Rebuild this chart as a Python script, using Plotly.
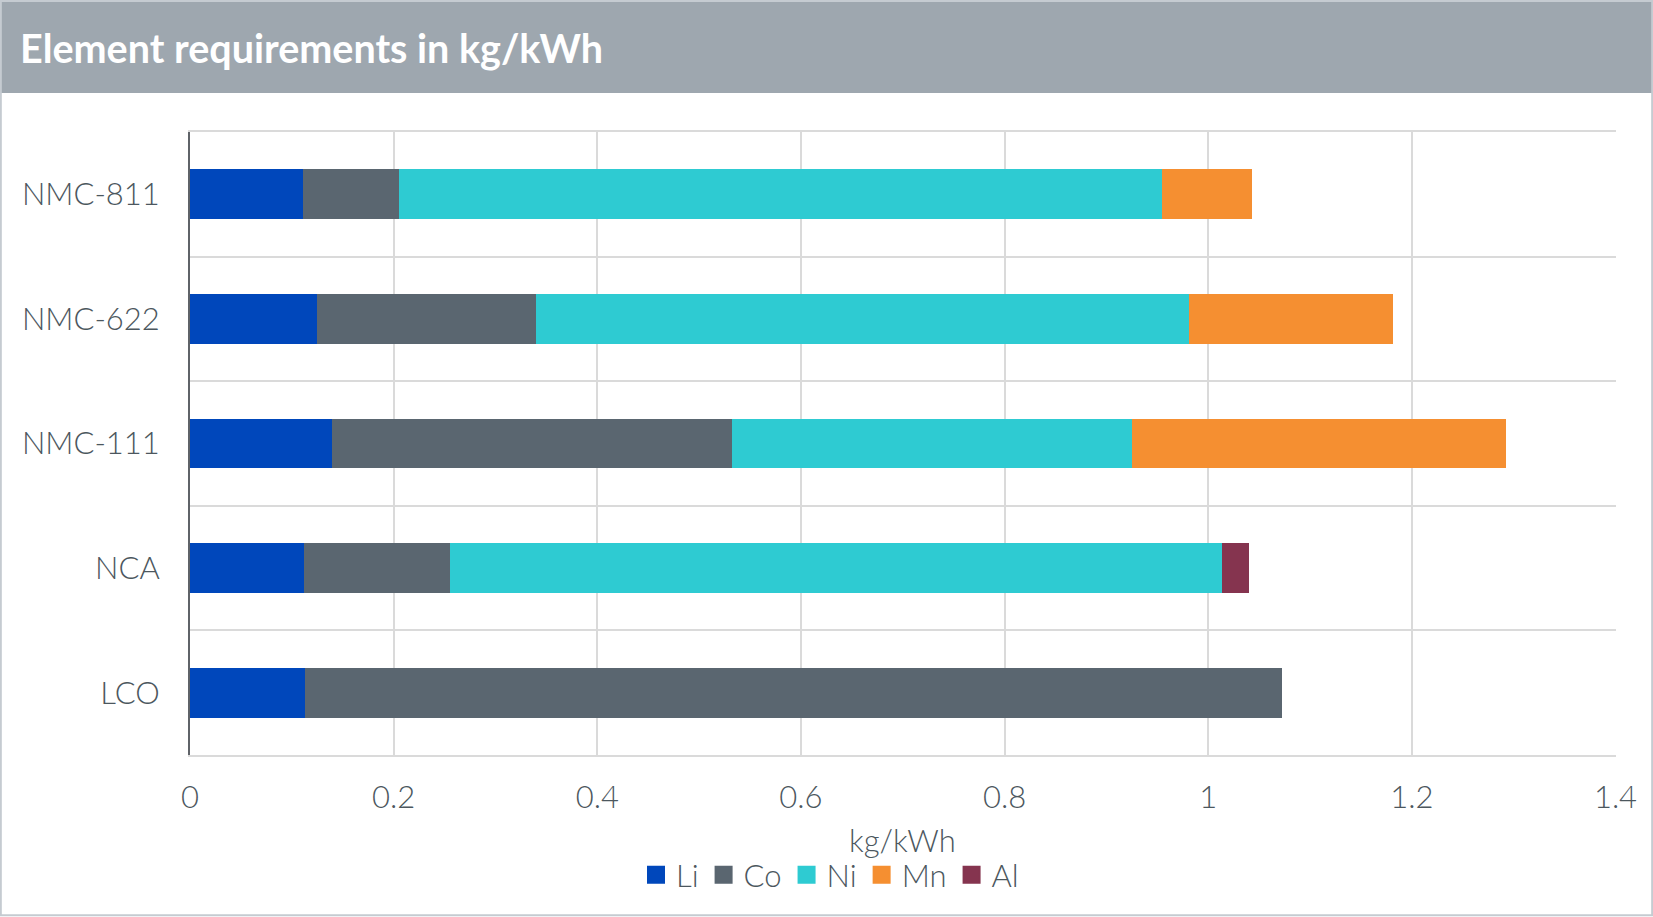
import plotly.graph_objects as go

W, H = 1653, 917

categories = ["LCO", "NCA", "NMC-111", "NMC-622", "NMC-811"]
li = [0.113, 0.112, 0.139, 0.125, 0.111]
co = [0.959, 0.143, 0.393, 0.215, 0.094]
ni = [0.0, 0.759, 0.393, 0.641, 0.750]
mn = [0.0, 0.0, 0.367, 0.200, 0.088]
al = [0.0, 0.026, 0.0, 0.0, 0.0]

series = [("Li", li, "#0047BB"), ("Co", co, "#5A6670"), ("Ni", ni, "#2ECBD2"),
          ("Mn", mn, "#F58F31"), ("Al", al, "#85344F")]

x_ticks = [0, 0.2, 0.4, 0.6, 0.8, 1, 1.2, 1.4]
x_ticktext = ["0", "0.2", "0.4", "0.6", "0.8", "1", "1.2", "1.4"]

FONT = "Lato"
TXT = "#4c575e"
FS = 31

fig = go.Figure()
for name, vals, col in series:
    fig.add_trace(go.Bar(
        y=categories, x=vals, name=name, orientation="h",
        marker=dict(color=col, line=dict(width=0)),
        showlegend=False, legendgroup=name,
    ))
for name, vals, col in series:
    fig.add_trace(go.Scatter(
        x=[None], y=[None], mode="markers", name=name, legendgroup=name,
        marker=dict(symbol="square", size=16, color=col, line=dict(width=2, color=col)),
        showlegend=True,
    ))

L, R, T, B = 190, 1616, 132, 755

tickfont = dict(size=FS, color=TXT, family=FONT, weight=300)

fig.update_layout(
    width=W, height=H,
    barmode="stack", bargap=0.6,
    margin=dict(l=0, r=0, t=0, b=0, autoexpand=False),
    paper_bgcolor="white", plot_bgcolor="white",
    font=dict(family=FONT, color=TXT, size=FS),
    xaxis=dict(
        domain=[L / W, R / W], range=[0, 1.4005], automargin=False,
        tickvals=x_ticks, ticktext=x_ticktext,
        showgrid=True, gridcolor="#DADADA", gridwidth=2,
        zeroline=False, showline=True, linecolor="#DADADA", linewidth=2, mirror=True,
        ticks="", ticklabelstandoff=14,
        tickfont=tickfont,
    ),
    yaxis=dict(
        domain=[1 - B / H, 1 - T / H], automargin=False,
        type="category", categoryorder="array", categoryarray=categories,
        tickson="boundaries", showgrid=True, gridcolor="#DADADA", gridwidth=2,
        showline=True, linecolor="#5f6368", linewidth=2,
        ticks="", ticklabelstandoff=22,
        tickfont=tickfont,
    ),
    legend=dict(
        orientation="h", x=830 / W, xanchor="center", y=1 - 875 / H, yanchor="middle",
        font=dict(size=FS, color=TXT, family=FONT, weight=300),
        itemwidth=30, traceorder="normal", bgcolor="rgba(0,0,0,0)",
        itemsizing="trace",
    ),
    showlegend=True,
    shapes=[
        dict(type="rect", xref="paper", yref="paper", x0=0, x1=1, y0=1 - 93 / H, y1=1,
             fillcolor="#9EA7AF", line=dict(width=0), layer="below"),
        dict(type="rect", xref="paper", yref="paper", x0=0.0005, x1=0.9995, y0=0.002, y1=0.999,
             fillcolor="rgba(0,0,0,0)", line=dict(width=2, color="#C5CBD1"), layer="below"),
    ],
    annotations=[
        dict(text="<b>Element requirements in kg/kWh</b>", xref="paper", yref="paper",
             x=18 / W, y=1 - 48 / H, xanchor="left", yanchor="middle", showarrow=False,
             font=dict(size=39.5, color="white", family=FONT)),
        dict(text="kg/kWh", xref="paper", yref="paper",
             x=903 / W, y=1 - 840 / H, xanchor="center", yanchor="middle", showarrow=False,
             font=dict(size=FS, color=TXT, family=FONT, weight=300)),
    ],
)

fig.write_html("out.html")
